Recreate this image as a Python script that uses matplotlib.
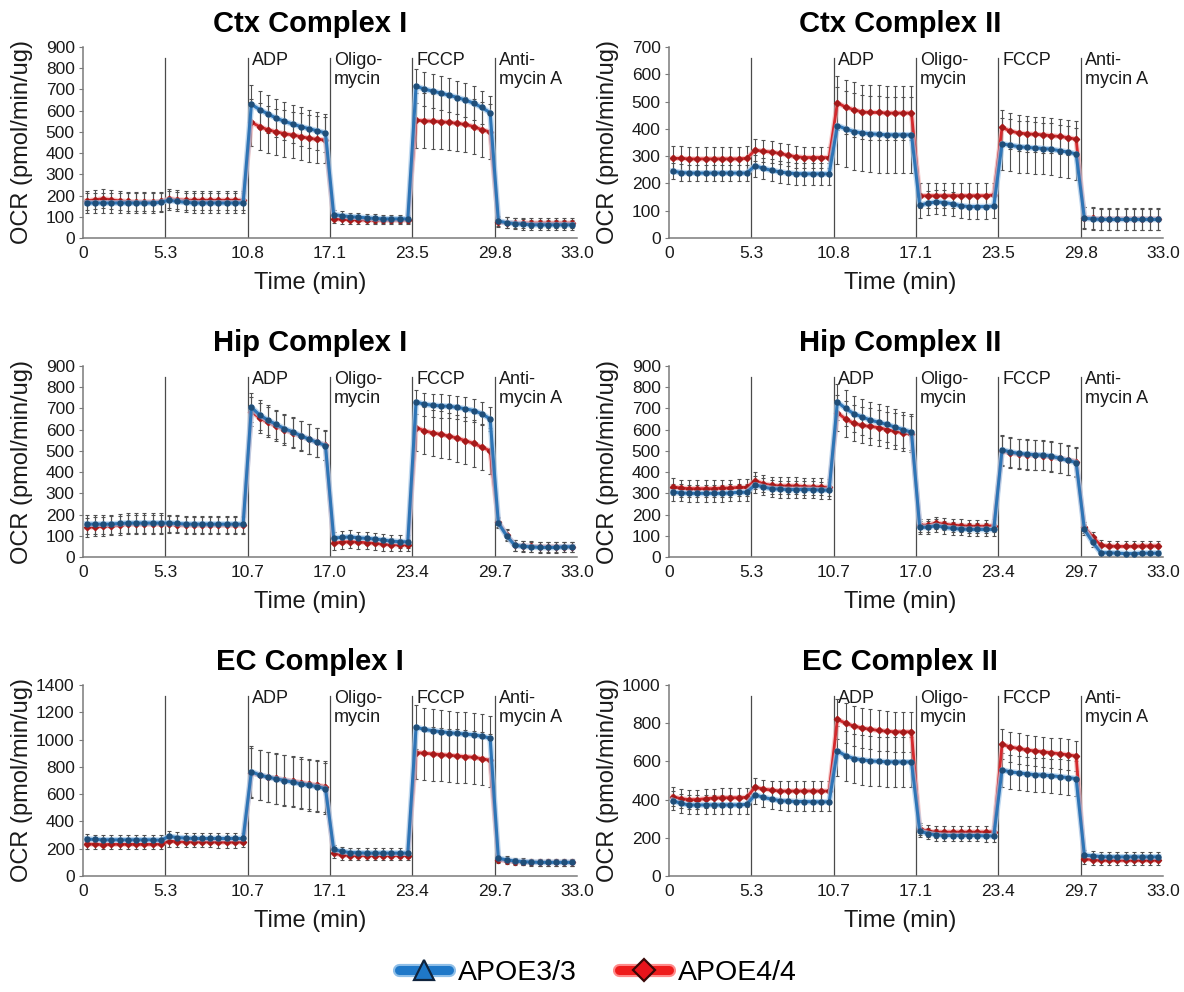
import numpy as np
import matplotlib
matplotlib.use("Agg")
import matplotlib.pyplot as plt
from matplotlib.lines import Line2D
from matplotlib.legend_handler import HandlerTuple
import matplotlib.transforms as mtransforms

plt.rcParams['font.family'] = ['Liberation Sans', 'DejaVu Sans']

# ---- oxygen consumption rate (pmol/min/ug), 10 readings per injection period ----
ctx1_e33 = [165, 165, 165, 165, 165, 165, 165, 165, 165, 168,
            178, 172, 168, 165, 165, 165, 165, 165, 165, 165,
            630, 605, 585, 565, 550, 537, 525, 515, 505, 495,
            110, 105, 100, 98, 95, 92, 90, 90, 90, 90,
            715, 702, 692, 683, 673, 662, 650, 635, 615, 590,
            80, 72, 68, 65, 62, 62, 62, 62, 62, 62]
ctx1_e44 = [175, 180, 185, 180, 175, 172, 170, 170, 170, 172,
            185, 180, 178, 178, 178, 178, 178, 178, 178, 178,
            545, 525, 510, 500, 492, 485, 478, 470, 465, 462,
            90, 88, 86, 85, 85, 84, 84, 84, 84, 85,
            555, 552, 550, 548, 545, 540, 535, 525, 510, 500,
            75, 72, 70, 70, 70, 70, 70, 70, 70, 70]
ctx1_e33_sd = [45, 45, 90, 20, 80, 25]
ctx1_e44_sd = [45, 45, 110, 20, 130, 25]

ctx2_e33 = [245, 240, 238, 238, 238, 238, 238, 238, 238, 238,
            265, 255, 248, 242, 238, 236, 235, 235, 235, 235,
            412, 400, 390, 385, 382, 380, 378, 378, 378, 378,
            120, 128, 132, 130, 125, 118, 115, 115, 115, 117,
            345, 340, 335, 332, 330, 328, 325, 320, 315, 308,
            72, 70, 68, 68, 68, 68, 68, 68, 68, 68]
ctx2_e44 = [292, 292, 290, 290, 290, 290, 290, 290, 290, 292,
            322, 318, 315, 310, 303, 298, 295, 295, 295, 295,
            495, 480, 470, 462, 460, 460, 458, 458, 458, 458,
            155, 155, 155, 155, 155, 155, 155, 155, 155, 158,
            405, 392, 385, 382, 380, 378, 375, 372, 368, 362,
            75, 72, 70, 70, 70, 70, 70, 70, 70, 70]
ctx2_e33_sd = [30, 40, 140, 45, 95, 40]
ctx2_e44_sd = [45, 40, 100, 45, 65, 40]

hip1_e33 = [155, 155, 155, 155, 158, 160, 160, 160, 160, 160,
            160, 158, 155, 155, 155, 155, 155, 155, 155, 155,
            705, 670, 645, 625, 605, 590, 572, 555, 540, 525,
            90, 92, 95, 90, 88, 85, 80, 75, 72, 72,
            730, 720, 715, 712, 710, 705, 698, 690, 675, 650,
            160, 100, 55, 50, 48, 45, 45, 45, 48, 48]
hip1_e44 = [140, 142, 145, 148, 150, 155, 155, 155, 155, 155,
            155, 152, 150, 150, 150, 150, 150, 150, 150, 150,
            685, 655, 635, 618, 600, 585, 570, 555, 540, 528,
            65, 70, 72, 70, 68, 65, 60, 58, 57, 57,
            610, 595, 585, 578, 570, 560, 548, 535, 518, 500,
            165, 105, 55, 52, 50, 48, 48, 48, 48, 48]
hip1_e33_sd = [45, 40, 70, 30, 55, 25]
hip1_e44_sd = [45, 40, 70, 30, 110, 25]

hip2_e33 = [305, 302, 300, 300, 300, 300, 300, 302, 305, 305,
            340, 330, 322, 320, 318, 318, 318, 318, 315, 315,
            730, 700, 675, 660, 645, 635, 625, 612, 600, 588,
            140, 140, 148, 140, 135, 132, 130, 130, 130, 130,
            505, 495, 488, 485, 482, 480, 475, 465, 455, 445,
            130, 70, 20, 20, 18, 16, 16, 18, 18, 18]
hip2_e44 = [330, 325, 322, 322, 322, 322, 325, 325, 328, 328,
            360, 345, 338, 335, 335, 335, 332, 330, 330, 328,
            680, 650, 630, 620, 615, 610, 600, 592, 585, 580,
            150, 150, 160, 155, 150, 148, 145, 145, 145, 148,
            500, 490, 485, 482, 480, 478, 472, 465, 458, 450,
            140, 95, 55, 52, 50, 50, 50, 52, 52, 52]
hip2_e33_sd = [40, 40, 85, 30, 70, 25]
hip2_e44_sd = [40, 40, 85, 30, 70, 25]

ec1_e33 = [270, 268, 265, 265, 265, 265, 265, 265, 265, 262,
           290, 282, 278, 275, 275, 275, 275, 275, 275, 275,
           765, 740, 725, 712, 700, 688, 675, 665, 655, 640,
           195, 180, 172, 170, 168, 168, 168, 168, 168, 168,
           1090, 1075, 1065, 1058, 1050, 1045, 1040, 1035, 1025, 1010,
           130, 118, 110, 105, 102, 100, 100, 100, 100, 100]
ec1_e44 = [235, 232, 230, 232, 232, 232, 232, 232, 232, 235,
           255, 252, 250, 250, 250, 250, 248, 248, 248, 250,
           755, 740, 725, 715, 705, 695, 685, 675, 665, 655,
           165, 155, 150, 150, 150, 150, 150, 150, 150, 150,
           905, 900, 895, 890, 885, 880, 875, 870, 860, 848,
           120, 112, 105, 102, 100, 100, 100, 100, 100, 100]
ec1_e33_sd = [35, 40, 185, 35, 160, 25]
ec1_e44_sd = [35, 40, 185, 35, 195, 25]

ec2_e33 = [395, 380, 372, 372, 372, 372, 372, 372, 372, 375,
           425, 412, 402, 395, 392, 390, 390, 388, 388, 388,
           655, 630, 615, 608, 603, 600, 598, 597, 597, 597,
           235, 222, 215, 212, 212, 212, 212, 212, 210, 210,
           555, 545, 540, 535, 530, 528, 525, 520, 515, 510,
           110, 105, 102, 100, 100, 100, 100, 100, 100, 100]
ec2_e44 = [415, 405, 400, 400, 405, 408, 410, 410, 410, 412,
           465, 455, 450, 445, 445, 445, 445, 445, 445, 445,
           820, 800, 785, 775, 768, 762, 758, 755, 755, 755,
           245, 235, 230, 230, 230, 230, 230, 230, 230, 232,
           690, 675, 668, 660, 655, 650, 645, 640, 635, 628,
           90, 85, 82, 82, 82, 82, 82, 82, 82, 82]
ec2_e33_sd = [50, 50, 130, 30, 90, 25]
ec2_e44_sd = [50, 50, 105, 30, 80, 25]

# ---- axis labelling ----
ticks_ctx = ['0', '5.3', '10.8', '17.1', '23.5', '29.8', '33.0']
ticks_hip = ['0', '5.3', '10.7', '17.0', '23.4', '29.7', '33.0']
ticks_ec = ['0', '5.3', '10.7', '17.1', '23.4', '29.7', '33.0']
injections = ['', 'ADP', 'Oligo-\nmycin', 'FCCP', 'Anti-\nmycin A']
series_names = ['APOE3/3', 'APOE4/4']

panels = [
    ('Ctx Complex I', ctx1_e33, ctx1_e44, ctx1_e33_sd, ctx1_e44_sd, ticks_ctx, 900, 100),
    ('Ctx Complex II', ctx2_e33, ctx2_e44, ctx2_e33_sd, ctx2_e44_sd, ticks_ctx, 700, 100),
    ('Hip Complex I', hip1_e33, hip1_e44, hip1_e33_sd, hip1_e44_sd, ticks_hip, 900, 100),
    ('Hip Complex II', hip2_e33, hip2_e44, hip2_e33_sd, hip2_e44_sd, ticks_hip, 900, 100),
    ('EC Complex I', ec1_e33, ec1_e44, ec1_e33_sd, ec1_e44_sd, ticks_ec, 1400, 200),
    ('EC Complex II', ec2_e33, ec2_e44, ec2_e33_sd, ec2_e44_sd, ticks_ec, 1000, 200),
]

BLUE, BLUE_GLOW, BLUE_MK = '#2e75b6', '#a6c9ea', '#1f4e79'
RED, RED_GLOW, RED_MK = '#d42a2e', '#f0a8a8', '#a51a1a'
ERR = '#505050'
AX = '#7a7a7a'
TXT = '#1a1a1a'

W, H = 1184, 992
fig = plt.figure(figsize=(W / 100, H / 100), dpi=100)

n_per = 10
n_seg = 6
seg_idx = np.repeat(np.arange(n_seg), n_per)
xpos = seg_idx + np.tile((np.arange(n_per) + 0.45) / n_per, n_seg)

col_left = [83, 669]
row_top = [47, 366, 685]
ax_w, ax_h = 494, 191
title_cx = [310, 900]

for i, (title, e33, e44, sd33, sd44, xt, ymax, ystep) in enumerate(panels):
    r, c = divmod(i, 2)
    left = col_left[c] / W
    bottom = 1 - (row_top[r] + ax_h) / H
    ax = fig.add_axes([left, bottom, ax_w / W, ax_h / H])

    e33 = np.asarray(e33, float)
    e44 = np.asarray(e44, float)
    err33 = np.repeat(sd33, n_per)
    err44 = np.repeat(sd44, n_per)

    # injection markers
    label_tf = (mtransforms.blended_transform_factory(ax.transData, ax.transAxes)
                + mtransforms.ScaledTranslation(4 / 100, 0, fig.dpi_scale_trans))
    for k in range(1, n_seg):
        ax.axvline(k, ymin=0, ymax=0.942, color='#4a4a4a', lw=0.9, zorder=1)
        if injections[k - 1]:
            ax.text(k, 0.975, injections[k - 1], transform=label_tf,
                    ha='left', va='top', fontsize=13, color=TXT, linespacing=1.15)

    # error bars
    ax.errorbar(xpos, e44, yerr=err44, fmt='none', ecolor=ERR, elinewidth=0.8,
                capsize=1.6, capthick=0.8, zorder=2)
    ax.errorbar(xpos, e33, yerr=err33, fmt='none', ecolor=ERR, elinewidth=0.8,
                capsize=1.6, capthick=0.8, zorder=2)

    # mean traces
    ax.plot(xpos, e44, color=RED_GLOW, lw=3.8, alpha=0.6, zorder=3, solid_joinstyle='round')
    ax.plot(xpos, e44, color=RED, lw=2.0, marker='D', ms=3.2, mfc=RED_MK, mec=RED_MK,
            zorder=4)
    ax.plot(xpos, e33, color=BLUE_GLOW, lw=4.2, alpha=0.7, zorder=5, solid_joinstyle='round')
    ax.plot(xpos, e33, color=BLUE, lw=2.2, marker='o', ms=3.6, mfc=BLUE_MK, mec=BLUE_MK,
            zorder=6)

    ax.set_xlim(0, n_seg)
    ax.set_ylim(0, ymax)
    ax.set_xticks(np.arange(n_seg + 1))
    ax.set_xticklabels(xt)
    ax.set_yticks(np.arange(0, ymax + 1, ystep))
    ax.tick_params(axis='x', length=0, pad=6, labelsize=12.5, labelcolor=TXT)
    ax.tick_params(axis='y', length=3, width=0.8, color=AX, pad=3, labelsize=12.5,
                   labelcolor=TXT, direction='out')
    for s in ('top', 'right'):
        ax.spines[s].set_visible(False)
    for s in ('left', 'bottom'):
        ax.spines[s].set_color(AX)
        ax.spines[s].set_linewidth(1.1)
    ax.set_facecolor('none')

    cx = title_cx[c] / W
    fig.text(cx, 1 - (row_top[r] - 23) / H, title, ha='center', va='center',
             fontsize=21, fontweight='bold', color='black')
    fig.text(cx, 1 - (row_top[r] + ax_h + 45) / H, 'Time (min)', ha='center', va='center',
             fontsize=17, color=TXT)
    fig.text((col_left[c] - 61) / W, 1 - (row_top[r] + ax_h / 2) / H, 'OCR (pmol/min/ug)',
             rotation=90, ha='center', va='center', fontsize=17, color=TXT)

# legend: soft wide stroke under a solid line with the series marker
blue_handle = (Line2D([], [], color='#8fbfe8', lw=9.5, solid_capstyle='round'),
               Line2D([], [], color='#1f78c8', lw=6.5, solid_capstyle='round', marker='^',
                      ms=15, mfc='#1f78c8', mec='#10243d', mew=1.6))
red_handle = (Line2D([], [], color='#ff8a8a', lw=9.5, solid_capstyle='round'),
              Line2D([], [], color='#ee1c1c', lw=6.5, solid_capstyle='round', marker='D',
                     ms=11, mfc='#e8141c', mec='#3a0808', mew=1.6))
fig.legend([blue_handle, red_handle], series_names, loc='center',
           bbox_to_anchor=(0.505, 1 - 973 / H), ncol=2, frameon=False, fontsize=20.5,
           handlelength=1.75, handletextpad=0.3, columnspacing=1.5, borderaxespad=0,
           handler_map={tuple: HandlerTuple(ndivide=1, pad=0)})

fig.savefig('out.png', dpi=100, facecolor='white')
